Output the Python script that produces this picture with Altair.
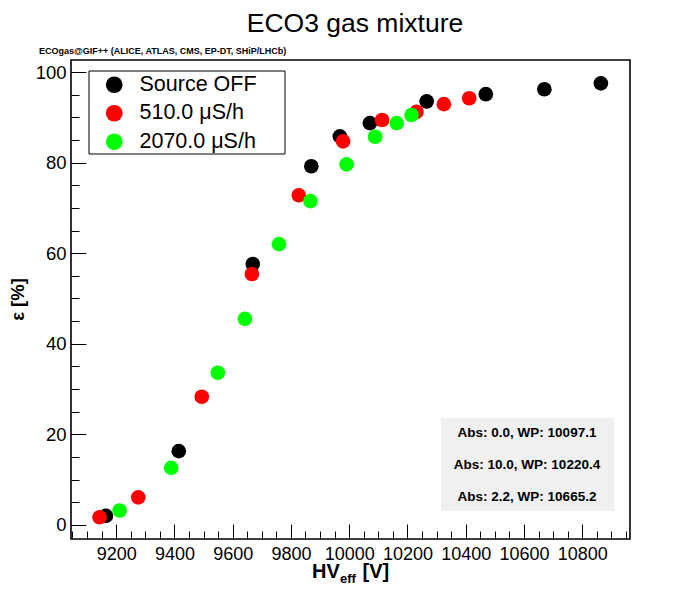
import altair as alt
import pandas as pd

FONT = "Liberation Sans"

# ---- data ----
series_names = ["Source OFF", "510.0 μS/h", "2070.0 μS/h"]
series_colors = ["#000000", "#ff0000", "#00ff00"]

off_hv = [9165, 9415, 9669, 9870, 9968, 10071, 10266, 10469, 10670, 10864]
off_eff = [2.0, 16.3, 57.6, 79.2, 85.8, 88.7, 93.5, 95.1, 96.2, 97.5]

s510_hv = [9143, 9276, 9494, 9666, 9827, 9979, 10113, 10231, 10325, 10412]
s510_eff = [1.7, 6.1, 28.3, 55.4, 72.8, 84.7, 89.4, 91.2, 92.9, 94.2]

s2070_hv = [9212, 9389, 9549, 9642, 9759, 9867, 9991, 10089, 10163, 10214]
s2070_eff = [3.2, 12.6, 33.6, 45.5, 62.0, 71.5, 79.6, 85.7, 88.7, 90.5]

x_major = [9200, 9400, 9600, 9800, 10000, 10200, 10400, 10600, 10800]
x_minor = list(range(9050, 10964, 50))
y_major = [0, 20, 40, 60, 80, 100]
y_minor = list(range(0, 101, 5))

x_domain = [9045, 10964]
y_domain = [-3.1, 102.65]

title_text = "ECO3 gas mixture"
subtitle_text = "ECOgas@GIF++ (ALICE, ATLAS, CMS, EP-DT, SHiP/LHCb)"
wp_lines = ["Abs: 0.0, WP: 10097.1", "Abs: 10.0, WP: 10220.4", "Abs: 2.2, WP: 10665.2"]

rows = []
for name, xs, ys in zip(series_names, [off_hv, s510_hv, s2070_hv], [off_eff, s510_eff, s2070_eff]):
    for xv, yv in zip(xs, ys):
        rows.append({"series": name, "hv": xv, "eff": yv})
df = pd.DataFrame(rows)

W, H = 559, 479
xs_ = alt.Scale(domain=x_domain, nice=False, zero=False)
ys_ = alt.Scale(domain=y_domain, nice=False, zero=False)

points = alt.Chart(df).mark_circle(size=215, opacity=1, strokeWidth=0).encode(
    x=alt.X("hv:Q", scale=xs_, axis=alt.Axis(
        values=x_major, orient="bottom", offset=-15, tickSize=15, domain=False, grid=False,
        labelFont=FONT, labelFontSize=18, labelPadding=6, labelColor="black", format="d",
        tickColor="black", tickWidth=1, labelFlush=False, labelOverlap=False, title=None)),
    y=alt.Y("eff:Q", scale=ys_, axis=alt.Axis(
        values=y_major, orient="left", offset=-15, tickSize=15, domain=False, grid=False,
        labelFont=FONT, labelFontSize=18.5, labelPadding=5, labelColor="black", format="d",
        tickColor="black", tickWidth=1, labelFlush=False, labelOverlap=False, title=None)),
    color=alt.Color("series:N", scale=alt.Scale(domain=series_names, range=series_colors),
                    legend=alt.Legend(
                        title=None, orient="none", legendX=18, legendY=11,
                        padding=3,
                        symbolType="circle", symbolSize=280, symbolStrokeWidth=0, symbolOpacity=1,
                        symbolOffset=11.5, labelOffset=14.5, rowPadding=5.5,
                        labelFont=FONT, labelFontSize=21.5, labelColor="black")),
)

minor = alt.Chart(df).mark_circle(opacity=0).encode(
    x=alt.X("hv:Q", scale=xs_, axis=alt.Axis(
        values=x_minor, orient="bottom", offset=-8, tickSize=8, domain=False, grid=False,
        labels=False, tickColor="black", tickWidth=1, title=None)),
    y=alt.Y("eff:Q", scale=ys_, axis=alt.Axis(
        values=y_minor, orient="left", offset=-8, tickSize=8, domain=False, grid=False,
        labels=False, tickColor="black", tickWidth=1, title=None)),
)

one = pd.DataFrame({"k": [0]})

wp_box = alt.Chart(one).mark_rect(color="#f0f0f0").encode(
    x=alt.value(370), x2=alt.value(543), y=alt.value(358), y2=alt.value(451))

legend_box = alt.Chart(one).mark_rect(fill="white", stroke="black", strokeWidth=1).encode(
    x=alt.value(18), x2=alt.value(214), y=alt.value(11), y2=alt.value(94))

def label(text, x, y, size, weight="normal", align="left", angle=0, baseline="alphabetic"):
    return alt.Chart(pd.DataFrame({"t": [text]})).mark_text(
        font=FONT, fontSize=size, fontWeight=weight, align=align, baseline=baseline,
        angle=angle, color="black").encode(text="t:N", x=alt.value(x), y=alt.value(y))

texts = [
    label(title_text, 284, -28, 26.5, align="center"),
    label(subtitle_text, -32, -6, 9, weight="bold"),
    label("HV", 241, 518, 20, weight="bold"),
    label("eff", 269, 523, 13, weight="bold"),
    label("[V]", 291.5, 518, 20, weight="bold"),
    label("ε [%]", -53, H / 2, 18.5, weight="bold", align="center", angle=270, baseline="middle"),
]
wp_y = [373, 405, 437]
for line, yy in zip(wp_lines, wp_y):
    texts.append(label(line, 456, yy, 13.5, weight="bold", align="center", baseline="middle"))

chart = alt.layer(minor, wp_box, legend_box, points, *texts).resolve_axis(
    x="independent", y="independent"
).properties(
    width=W, height=H,
    padding={"left": 63, "top": 52, "right": 62, "bottom": 53},
    autosize=alt.AutoSizeParams(type="none"),
    background="white",
).configure_view(stroke="black", strokeWidth=1.6)

chart.save("out.html", embed_options={"renderer": "svg", "actions": False})
